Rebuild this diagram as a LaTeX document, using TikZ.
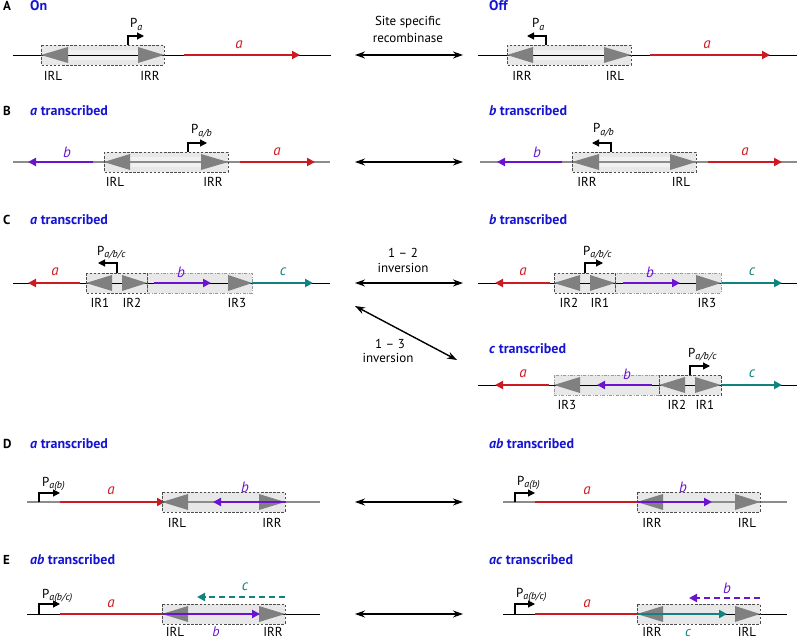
\documentclass[tikz,border=0pt]{standalone}
\usepackage{fontspec}
\setmainfont{PT Sans}
\usetikzlibrary{arrows.meta}
\definecolor{hblue}{HTML}{1414D2}
\definecolor{gred}{HTML}{CC1A22}
\definecolor{gpur}{HTML}{6A14D0}
\definecolor{gteal}{HTML}{10827F}
\definecolor{irgray}{HTML}{808080}
\definecolor{boxfill}{HTML}{E8E8E8}
\definecolor{bandfill}{HTML}{F1F1F1}
\newcommand\IRT[3]{\fill[irgray] (#1,#3-8) -- (#2,#3) -- (#1,#3+8) -- cycle;}
\newcommand\BFill[3]{\fill[boxfill] (#1,#3-10) rectangle (#2,#3+10);}
\newcommand\Band[3]{\fill[bandfill] (#1,#3-5) rectangle (#2,#3+5);}
\newcommand\PSub[1]{P\raisebox{-0.45ex}{\fontsize{10}{10}\selectfont\itshape #1}}
\tikzset{
 dna/.style={line width=0.9pt, black},
 dnag/.style={line width=1.3pt, black!45},
 gene/.style={line width=2.3pt, -{Triangle[length=8pt,width=8pt]}},
 genebar/.style={line width=2.3pt},
 dgene/.style={line width=2.3pt, dash pattern=on 6pt off 4pt, -{Triangle[length=8pt,width=8pt]}},
 ibox/.style={draw=black!70, dash pattern=on 2.5pt off 1.6pt, line width=0.8pt},
 dbox/.style={draw=black!40, dash pattern=on 3pt off 1.5pt on 0.8pt off 1.5pt, line width=0.8pt},
 prom/.style={line width=1.1pt, -{Triangle[length=7pt,width=7pt]}},
 swap/.style={line width=1.4pt, {Stealth[length=10pt,width=7pt]}-{Stealth[length=10pt,width=7pt]}},
 lbl/.style={font=\fontsize{13}{14}\selectfont, inner sep=0pt},
 plbl/.style={font=\fontsize{13}{14}\selectfont, inner sep=0pt, anchor=base west},
 head/.style={font=\fontsize{14}{16}\selectfont\bfseries, text=hblue, anchor=base west, inner sep=0pt},
 panel/.style={font=\fontsize{13}{16}\selectfont\bfseries, anchor=base west, inner sep=0pt},
 glbl/.style={font=\fontsize{15}{16}\selectfont\itshape, inner sep=0pt},
}
\begin{document}
\begin{tikzpicture}[x=1pt,y=-1pt]
\path[use as bounding box] (0,0) rectangle (800,639);

% ================= A =================
\node[panel] (pA) at (3,11) {A};
\node[head] (hA1) at (30,11) {On};
\node[head] (hA2) at (489,11) {Off};
% left
\BFill{41}{164}{55}\Band{68}{138}{55}
\draw[dna] (13,55) coordinate (a1s) -- (331,55) coordinate (a1e);
\IRT{68}{41}{55}\IRT{138}{164}{55}
\draw[ibox] (41,45) rectangle (164,65);
\draw[gene, gred] (184,55) coordinate (ga1s) -- (300,55) coordinate (ga1e);
\draw[prom] (128,45) coordinate (pa1) |- (144,36) coordinate (pa1e);
\node[plbl] (PA1) at (130,28) {\PSub{a}};
\node[lbl] (irlA1) at (53,76) {IRL};
\node[lbl] (irrA1) at (150,76) {IRR};
\node[glbl, gred] (laA1) at (239,45) {a};
% middle
\node[lbl] (ss) at (408,22) {Site specific};
\node[lbl] (rec) at (408,38) {recombinase};
\coordinate (swA1) at (355,55); \coordinate (swA2) at (463,55);
\draw[swap] (swA1) -- (swA2);
% right
\BFill{507}{631}{55}\Band{533}{604}{55}
\draw[dna] (478,55) coordinate (a2s) -- (797,55) coordinate (a2e);
\IRT{533}{507}{55}\IRT{604}{631}{55}
\draw[ibox] (507,45) rectangle (631,65);
\draw[gene, gred] (650,55) coordinate (ga2s) -- (770,55) coordinate (ga2e);
\draw[prom] (546,45) coordinate (pa2) |- (527,36) coordinate (pa2e);
\node[plbl] (PA2) at (532,28) {\PSub{a}};
\node[lbl] (irrA2) at (522,76) {IRR};
\node[lbl] (irlA2) at (615,76) {IRL};
\node[glbl, gred] (laA2) at (707,45) {a};

% ================= B =================
\node[panel] (pB) at (3,116) {B};
\node[head] (hB1) at (30,116) {\textit{a} transcribed};
\node[head] (hB2) at (489,116) {\textit{b} transcribed};
% left
\BFill{104}{228}{162}\Band{130}{201}{162}
\draw[dnag] (13,162) coordinate (b1s) -- (330,162) coordinate (b1e);
\IRT{130}{104}{162}\IRT{201}{228}{162}
\draw[ibox] (104,152) rectangle (228,172);
\draw[gene, gpur] (93,162) coordinate (gb1s) -- (28,162) coordinate (gb1e);
\draw[gene, gred] (240,162) coordinate (gab1s) -- (315,162) coordinate (gab1e);
\draw[prom] (188,152) coordinate (pb1) |- (207,143) coordinate (pb1e);
\node[plbl] (PB1) at (191,134) {\PSub{a/b}};
\node[lbl] (irlB1) at (115,182) {IRL};
\node[lbl] (irrB1) at (213,182) {IRR};
\node[glbl, gpur] (lbB1) at (67,152) {b};
\node[glbl, gred] (laB1) at (277,152) {a};
\coordinate (swB1) at (355,162); \coordinate (swB2) at (463,162);
\draw[swap] (swB1) -- (swB2);
% right
\BFill{572}{696}{162}\Band{599}{670}{162}
\draw[dnag] (480,162) coordinate (b2s) -- (797,162) coordinate (b2e);
\IRT{599}{572}{162}\IRT{670}{696}{162}
\draw[ibox] (572,152) rectangle (696,172);
\draw[gene, gpur] (562,162) coordinate (gb2s) -- (497,162) coordinate (gb2e);
\draw[gene, gred] (708,162) coordinate (gab2s) -- (782,162) coordinate (gab2e);
\draw[prom] (611,152) coordinate (pb2) |- (592,143) coordinate (pb2e);
\node[plbl] (PB2) at (593,133) {\PSub{a/b}};
\node[lbl] (irrB2) at (587,182) {IRR};
\node[lbl] (irlB2) at (681,182) {IRL};
\node[glbl, gpur] (lbB2) at (537,152) {b};
\node[glbl, gred] (laB2) at (745,152) {a};

% ================= C =================
\node[panel] (pC) at (3,225) {C};
\node[head] (hC1) at (30,225) {\textit{a} transcribed};
\node[head] (hC2) at (489,225) {\textit{b} transcribed};
% left
\BFill{86}{147}{283}\BFill{147}{252}{283}
\draw[dna] (13,283) coordinate (c1s) -- (330,283) coordinate (c1e);
\IRT{112}{86}{283}\IRT{122}{147}{283}\IRT{228}{252}{283}
\draw[gene, gred] (80,283) coordinate (gac1s) -- (28,283) coordinate (gac1e);
\draw[gene, gpur] (154,283) coordinate (gbc1s) -- (211,283) coordinate (gbc1e);
\draw[gene, gteal] (252,283) coordinate (gcc1s) -- (313,283) coordinate (gcc1e);
\draw[dbox] (147,273) rectangle (252,293);
\draw[ibox] (86,273) rectangle (147,293);
\draw[prom] (117,273) coordinate (pc1) |- (98,263) coordinate (pc1e);
\node[plbl] (PC1) at (97,255) {\PSub{a/b/c}};
\node[lbl] (ir1C1) at (100,303) {IR1};
\node[lbl] (ir2C1) at (132,303) {IR2};
\node[lbl] (ir3C1) at (237,303) {IR3};
\node[glbl, gred] (laC1) at (55,272) {a};
\node[glbl, gpur] (lbC1) at (181,272) {b};
\node[glbl, gteal] (lcC1) at (283,272) {c};
% middle
\node[lbl] (i12a) at (403,253) {1 – 2};
\node[lbl] (i12b) at (403,268) {inversion};
\coordinate (swC1) at (355,283); \coordinate (swC2) at (463,283);
\draw[swap] (swC1) -- (swC2);
\coordinate (swD1) at (355,306); \coordinate (swD2) at (457,360);
\draw[swap] (swD1) -- (swD2);
\node[lbl] (i13a) at (390,344) {1 – 3};
\node[lbl] (i13b) at (388,358) {inversion};
% right (b transcribed)
\BFill{554}{615}{283}\BFill{615}{721}{283}
\draw[dna] (478,283) coordinate (c2s) -- (797,283) coordinate (c2e);
\IRT{580}{554}{283}\IRT{590}{615}{283}\IRT{696}{721}{283}
\draw[gene, gred] (550,283) coordinate (gac2s) -- (495,283) coordinate (gac2e);
\draw[gene, gpur] (623,283) coordinate (gbc2s) -- (680,283) coordinate (gbc2e);
\draw[gene, gteal] (721,283) coordinate (gcc2s) -- (782,283) coordinate (gcc2e);
\draw[dbox] (615,273) rectangle (721,293);
\draw[ibox] (554,273) rectangle (615,293);
\draw[prom] (585,273) coordinate (pc2) |- (603,263) coordinate (pc2e);
\node[plbl] (PC2) at (583,255) {\PSub{a/b/c}};
\node[lbl] (ir2C2) at (569,303) {IR2};
\node[lbl] (ir1C2) at (600,303) {IR1};
\node[lbl] (ir3C2) at (707,303) {IR3};
\node[glbl, gred] (laC2) at (523,272) {a};
\node[glbl, gpur] (lbC2) at (650,272) {b};
\node[glbl, gteal] (lcC2) at (752,272) {c};
% right (c transcribed)
\node[head] (hC3) at (489,353) {\textit{c} transcribed};
\BFill{554}{659}{385}\BFill{659}{721}{385}
\draw[dna] (478,385) coordinate (c3s) -- (797,385) coordinate (c3e);
\IRT{580}{554}{385}\IRT{685}{659}{385}\IRT{695}{721}{385}
\draw[gene, gred] (549,385) coordinate (gac3s) -- (495,385) coordinate (gac3e);
\draw[gene, gpur] (652,385) coordinate (gbc3s) -- (597,385) coordinate (gbc3e);
\draw[gene, gteal] (721,385) coordinate (gcc3s) -- (782,385) coordinate (gcc3e);
\draw[dbox] (554,375) rectangle (659,395);
\draw[ibox] (659,375) rectangle (721,395);
\draw[prom] (690,375) coordinate (pc3) |- (710,366) coordinate (pc3e);
\node[plbl] (PC3) at (688,357) {\PSub{a/b/c}};
\node[lbl] (ir3C3) at (567,405) {IR3};
\node[lbl] (ir2C3) at (677,405) {IR2};
\node[lbl] (ir1C3) at (705,405) {IR1};
\node[glbl, gred] (laC3) at (523,374) {a};
\node[glbl, gpur] (lbC3) at (627,374) {b};
\node[glbl, gteal] (lcC3) at (752,374) {c};

% ================= D =================
\node[panel] (pD) at (3,448) {D};
\node[head] (hD1) at (30,448) {\textit{a} transcribed};
\node[head] (hD2) at (489,448) {\textit{ab} transcribed};
% left
\BFill{162}{285}{502}
\draw[dnag] (27,502) coordinate (d1s) -- (320,502) coordinate (d1e);
\IRT{188}{162}{502}\IRT{259}{285}{502}
\draw[gene, gred] (60,502) coordinate (gad1s) -- (165,502) coordinate (gad1e);
\draw[gene, gpur] (285,502) coordinate (gbd1s) -- (213,502) coordinate (gbd1e);
\draw[ibox] (162,492) rectangle (285,512);
\draw[prom] (39,502) coordinate (pd1) |- (60,493) coordinate (pd1e);
\node[plbl] (PD1) at (42,486) {\PSub{a(b)}};
\node[lbl] (irlD1) at (177,523) {IRL};
\node[lbl] (irrD1) at (272,523) {IRR};
\node[glbl, gred] (laD1) at (111,491) {a};
\node[glbl, gpur] (lbD1) at (245,487) {b};
\coordinate (swE1) at (355,502); \coordinate (swE2) at (463,502);
\draw[swap] (swE1) -- (swE2);
% right
\BFill{637}{760}{502}
\draw[dnag] (503,502) coordinate (d2s) -- (787,502) coordinate (d2e);
\IRT{663}{637}{502}\IRT{735}{760}{502}
\draw[genebar, gred] (535,502) coordinate (gad2s) -- (637,502) coordinate (gad2e);
\draw[gene, gpur] (637,502) coordinate (gbd2s) -- (712,502) coordinate (gbd2e);
\draw[ibox] (637,492) rectangle (760,512);
\draw[prom] (515,502) coordinate (pd2) |- (535,493) coordinate (pd2e);
\node[plbl] (PD2) at (517,485) {\PSub{a(b)}};
\node[lbl] (irrD2) at (652,523) {IRR};
\node[lbl] (irlD2) at (747,523) {IRL};
\node[glbl, gred] (laD2) at (587,491) {a};
\node[glbl, gpur] (lbD2) at (683,487) {b};

% ================= E =================
\node[panel] (pE) at (3,564) {E};
\node[head] (hE1) at (30,564) {\textit{ab} transcribed};
\node[head] (hE2) at (489,564) {\textit{ac} transcribed};
% left
\BFill{162}{285}{614}
\draw[dna] (27,614) coordinate (e1s) -- (320,614) coordinate (e1e);
\IRT{188}{162}{614}\IRT{259}{285}{614}
\draw[genebar, gred] (60,614) coordinate (gae1s) -- (162,614) coordinate (gae1e);
\draw[gene, gpur] (162,614) coordinate (gbe1s) -- (260,614) coordinate (gbe1e);
\draw[ibox] (162,604) rectangle (285,624);
\draw[dgene, gteal] (285,597) coordinate (gce1s) -- (197,597) coordinate (gce1e);
\draw[prom] (39,614) coordinate (pe1) |- (60,604) coordinate (pe1e);
\node[plbl] (PE1) at (42,598) {\PSub{a(b/c)}};
\node[lbl, anchor=north] (irlE1) at (175,627) {IRL};
\node[lbl, anchor=north] (irrE1) at (273,627) {IRR};
\node[glbl, gred] (laE1) at (111,604) {a};
\node[glbl, gpur, anchor=base, font=\fontsize{14}{15}\selectfont\itshape] (lbE1) at (216,636) {b};
\node[glbl, gteal] (lcE1) at (245,587) {c};
\coordinate (swF1) at (355,614); \coordinate (swF2) at (463,614);
\draw[swap] (swF1) -- (swF2);
% right
\BFill{637}{760}{614}
\draw[dna] (503,614) coordinate (e2s) -- (787,614) coordinate (e2e);
\IRT{663}{637}{614}\IRT{735}{760}{614}
\draw[genebar, gred] (535,614) coordinate (gae2s) -- (637,614) coordinate (gae2e);
\draw[gene, gteal] (637,614) coordinate (gce2s) -- (727,614) coordinate (gce2e);
\draw[ibox] (637,604) rectangle (760,624);
\draw[dgene, gpur] (760,598) coordinate (gbe2s) -- (689,598) coordinate (gbe2e);
\draw[prom] (515,614) coordinate (pe2) |- (535,604) coordinate (pe2e);
\node[plbl] (PE2) at (516,597) {\PSub{a(b/c)}};
\node[lbl, anchor=north] (irrE2) at (652,627) {IRR};
\node[lbl, anchor=north] (irlE2) at (747,627) {IRL};
\node[glbl, gred] (laE2) at (587,604) {a};
\node[glbl, gteal, anchor=base, font=\fontsize{14}{15}\selectfont\itshape] (lcE2) at (688,636) {c};
\node[glbl, gpur] (lbE2) at (727,588) {b};
\end{tikzpicture}
\end{document}
